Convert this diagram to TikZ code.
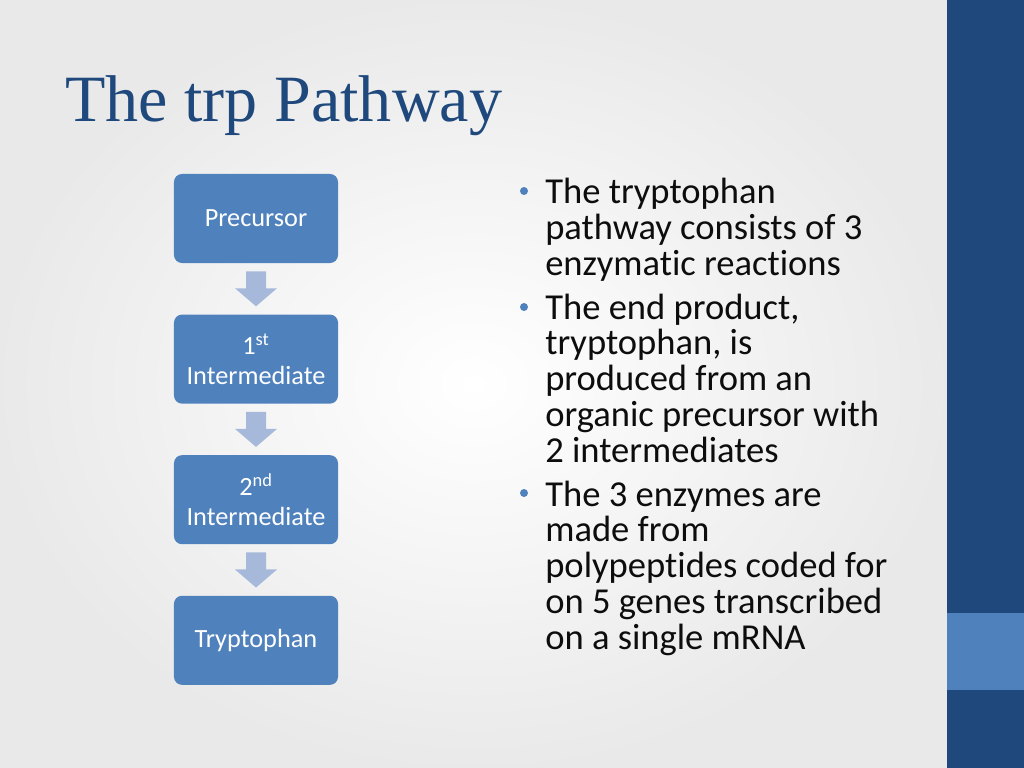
\documentclass[tikz,border=0pt]{standalone}
\usepackage{fontspec}
\setmainfont{Carlito}[Ligatures=NoCommon]
\newfontfamily\titlefont{Liberation Serif}
\usetikzlibrary{calc, positioning}
\definecolor{SlideBlue}{HTML}{1F497D}
\definecolor{BoxBlue}{HTML}{4F81BD}
\definecolor{ArrowBlue}{HTML}{A7B9DA}
\definecolor{TextGray}{HTML}{0D0D0D}
\tikzset{
    stagebox/.style={
        fill=BoxBlue, rounded corners=0.2cm, text=white, align=center,
        minimum width=4.1cm, minimum height=2.225cm, inner sep=0pt,
        font=\fontsize{18.7}{21}\selectfont
    },
    bullettext/.style={
        anchor=base west, align=left, inner sep=0pt, text=TextGray,
        font=\fontsize{26}{25.4}\selectfont
    },
    bulletdot/.style={fill=BoxBlue}
}

\begin{document}
\begin{tikzpicture}[x=0.025cm, y=-0.025cm]

    \useasboundingbox (0,0) rectangle (1024,768);

    % background and side bar
    \shade[inner color=white, outer color=gray!17] (0,0) rectangle (947,768);
    \fill[SlideBlue] (947,0) rectangle (1024,768);
    \fill[BoxBlue] (947,613) rectangle (1024,690);

    \node[anchor=base west, inner sep=0pt, text=SlideBlue,
          font=\titlefont\fontsize{47}{56}\selectfont] (title) at (65,122) {The trp Pathway};

    % pathway
    \node[stagebox] (pre) at (256,218.5) {Precursor};
    \node[stagebox, below=1.275cm of pre] (first) {1\textsuperscript{st}\\Intermediate};
    \node[stagebox, below=1.275cm of first] (second) {2\textsuperscript{nd}\\Intermediate};
    \node[stagebox, below=1.275cm of second] (trp) {Tryptophan};

    \foreach \a/\b in {pre/first, first/second, second/trp} {
        \fill[ArrowBlue] ($(\a.south)+(-10,8)$) -- ($(\a.south)+(10,8)$)
            -- ($(\a.south)+(10,25)$) -- ($(\a.south)+(21,25)$)
            -- ($(\b.north)+(0,-8)$)
            -- ($(\a.south)+(-21,25)$) -- ($(\a.south)+(-10,25)$) -- cycle;
    }

    % bullets
    \node[bullettext] (one) at (545,275) {The tryptophan\\pathway consists of 3\\enzymatic reactions};
    \node[bullettext] (two) at (545,462) {The end product,\\tryptophan, is\\produced from an\\organic precursor with\\2 intermediates};
    \node[bullettext] (three) at (545,649) {The 3 enzymes are\\made from\\polypeptides coded for\\on 5 genes transcribed\\on a single mRNA};

    \foreach \y in {191, 307, 493} {
        \fill[bulletdot] (524,\y) circle (4);
    }

\end{tikzpicture}
\end{document}
